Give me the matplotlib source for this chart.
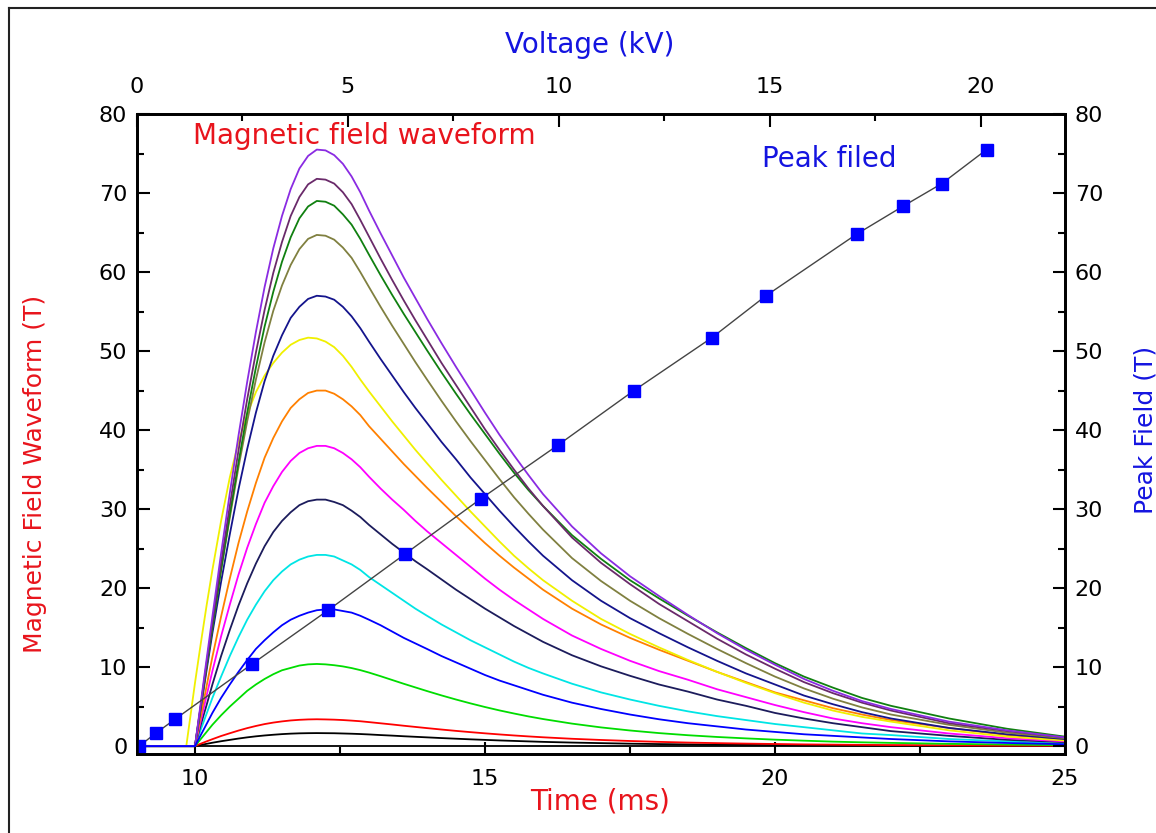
import matplotlib
matplotlib.use("Agg")
import matplotlib.pyplot as plt
from matplotlib.lines import Line2D
from matplotlib.ticker import MultipleLocator

# time grid (ms) shared by the waveforms
time_ms = [9.0, 9.85, 10.0, 10.1, 10.2, 10.3, 10.45, 10.6, 10.75, 10.9, 11.05, 11.2, 11.35,
           11.5, 11.65, 11.8, 11.95, 12.1, 12.25, 12.4, 12.55, 12.7, 12.85, 13.0, 13.2, 13.4,
           13.6, 13.8, 14.0, 14.25, 14.5, 14.75, 15.0, 15.25, 15.5, 15.75, 16.0, 16.5, 17.0,
           17.5, 18.0, 18.5, 19.0, 19.5, 20.0, 20.5, 21.0, 21.5, 22.0, 23.0, 24.0, 25.0]

# magnetic field waveforms (T)
wf_zero = [0.0] * len(time_ms)
wf_black = [0, 0, 0,
            0.15, 0.29, 0.43, 0.62, 0.79, 0.96, 1.11, 1.24, 1.35, 1.44, 1.52, 1.58, 1.62, 1.64, 1.65, 1.64,
            1.63, 1.6, 1.57, 1.53, 1.48, 1.4, 1.33, 1.25, 1.18, 1.11, 1.02, 0.94, 0.86, 0.79, 0.72, 0.66,
            0.6, 0.54, 0.45, 0.38, 0.31, 0.26, 0.22, 0.18, 0.16, 0.13, 0.11, 0.09, 0.08, 0.06, 0.05, 0.03, 0.02]
wf_red = [0, 0, 0,
          0.31, 0.6, 0.88, 1.28, 1.63, 1.97, 2.28, 2.55, 2.79, 2.98, 3.13, 3.25, 3.33, 3.38, 3.4, 3.38,
          3.35, 3.3, 3.23, 3.15, 3.04, 2.89, 2.74, 2.58, 2.43, 2.28, 2.1, 1.93, 1.77, 1.62, 1.48, 1.35,
          1.23, 1.12, 0.93, 0.78, 0.65, 0.54, 0.45, 0.38, 0.32, 0.27, 0.22, 0.19, 0.16, 0.13, 0.1, 0.06, 0.04]
wf_green = [0, 0, 0,
            0.9, 1.8, 2.7, 3.9, 5.0, 6.0, 7.0, 7.8, 8.5, 9.1, 9.6, 9.9, 10.2, 10.35, 10.4, 10.35,
            10.24, 10.09, 9.88, 9.62, 9.31, 8.85, 8.37, 7.89, 7.43, 6.97, 6.42, 5.9, 5.41, 4.95, 4.52, 4.13,
            3.76, 3.43, 2.85, 2.37, 1.98, 1.65, 1.38, 1.16, 0.98, 0.82, 0.69, 0.57, 0.48, 0.41, 0.29, 0.2, 0.12]
wf_blue = [0, 0, 0,
           1.4, 2.8, 4.2, 6.1, 7.8, 9.4, 10.9, 12.3, 13.4, 14.4, 15.3, 16.0, 16.5, 16.9, 17.2, 17.3,
           17.3, 17.1, 16.9, 16.5, 16.0, 15.3, 14.5, 13.7, 13.0, 12.3, 11.4, 10.6, 9.8, 9.0, 8.3, 7.7,
           7.1, 6.5, 5.5, 4.7, 4.0, 3.4, 2.9, 2.5, 2.1, 1.8, 1.5, 1.3, 1.1, 0.9, 0.6, 0.4, 0.24]
wf_cyan = [0, 0, 0,
           2.1, 4.1, 6.1, 8.8, 11.4, 13.8, 16.0, 17.9, 19.6, 21.0, 22.1, 23.0, 23.6, 24.0, 24.2, 24.2,
           24.0, 23.5, 23.0, 22.3, 21.4, 20.4, 19.4, 18.4, 17.4, 16.5, 15.4, 14.4, 13.4, 12.5, 11.6, 10.7,
           9.9, 9.2, 7.9, 6.8, 5.9, 5.1, 4.4, 3.8, 3.3, 2.8, 2.4, 2.0, 1.6, 1.4, 0.9, 0.6, 0.3]
wf_darknavy = [0, 0, 0,
               2.7, 5.2, 7.8, 11.4, 14.7, 17.8, 20.6, 23.1, 25.3, 27.1, 28.5, 29.6, 30.5, 31.0, 31.2, 31.2,
               30.9, 30.5, 29.8, 29.0, 28.0, 26.8, 25.6, 24.5, 23.4, 22.4, 21.1, 19.8, 18.6, 17.4, 16.3, 15.2,
               14.2, 13.2, 11.5, 10.1, 8.9, 7.8, 6.9, 5.9, 5.1, 4.2, 3.5, 2.9, 2.4, 1.9, 1.3, 0.8, 0.5]
wf_magenta = [0, 0, 0,
              3.2, 6.4, 9.5, 13.9, 17.9, 21.7, 25.1, 28.1, 30.8, 32.9, 34.7, 36.1, 37.1, 37.7, 38.0, 38.0,
              37.7, 37.1, 36.3, 35.3, 34.1, 32.6, 31.2, 29.9, 28.5, 27.2, 25.7, 24.2, 22.7, 21.2, 19.8, 18.5,
              17.3, 16.1, 14.0, 12.3, 10.8, 9.5, 8.4, 7.2, 6.2, 5.2, 4.3, 3.5, 2.9, 2.4, 1.6, 1.0, 0.6]
wf_orange = [0, 0, 0,
             3.8, 7.6, 11.3, 16.4, 21.2, 25.7, 29.7, 33.3, 36.5, 39.0, 41.1, 42.8, 43.9, 44.7, 45.0, 45.0,
             44.6, 43.9, 43.0, 41.9, 40.5, 38.9, 37.3, 35.7, 34.2, 32.7, 30.9, 29.1, 27.4, 25.7, 24.1, 22.6,
             21.2, 19.8, 17.4, 15.4, 13.7, 12.2, 10.8, 9.4, 8.1, 6.8, 5.8, 4.8, 4.0, 3.3, 2.3, 1.4, 0.8]
wf_yellow = [0, 0, 8.0,
             13.0, 17.8, 22.3, 28.5, 34.0, 38.5, 42.0, 44.8, 46.9, 48.5, 49.8, 50.8, 51.4, 51.7, 51.6, 51.2,
             50.5, 49.4, 48.0, 46.4, 44.9, 43.0, 41.1, 39.3, 37.5, 35.8, 33.7, 31.7, 29.7, 27.8, 25.9, 24.1,
             22.5, 21.0, 18.4, 16.1, 14.2, 12.5, 10.9, 9.4, 8.0, 6.7, 5.5, 4.5, 3.7, 3.1, 2.0, 1.2, 0.7]
wf_navy = [0, 0, 0,
           4.8, 9.6, 14.3, 20.8, 26.8, 32.5, 37.6, 42.2, 46.2, 49.4, 52.0, 54.2, 55.6, 56.6, 57.0, 56.9,
           56.5, 55.6, 54.4, 52.9, 51.2, 49.0, 46.9, 44.8, 42.8, 40.9, 38.5, 36.3, 34.0, 31.9, 29.8, 27.8,
           25.9, 24.1, 21.0, 18.4, 16.2, 14.3, 12.5, 10.8, 9.2, 7.8, 6.4, 5.3, 4.3, 3.5, 2.3, 1.5, 0.9]
wf_olive = [0, 0, 0,
            5.1, 10.2, 15.1, 22.3, 28.9, 35.3, 41.1, 46.4, 51.1, 55.1, 58.3, 60.9, 62.9, 64.2, 64.7, 64.6,
            64.1, 63.1, 61.8, 60.0, 58.1, 55.6, 53.2, 50.9, 48.6, 46.4, 43.7, 41.1, 38.6, 36.2, 33.8, 31.5,
            29.4, 27.4, 23.8, 20.9, 18.4, 16.2, 14.2, 12.3, 10.5, 8.8, 7.3, 6.0, 4.9, 4.0, 2.7, 1.7, 1.0]
wf_darkgreen = [0, 0, 0,
                5.0, 10.1, 15.0, 22.3, 29.3, 35.9, 42.2, 47.9, 53.1, 57.5, 61.3, 64.4, 66.8, 68.3, 69.0, 68.9,
                68.4, 67.3, 66.0, 64.2, 62.2, 59.6, 57.1, 54.7, 52.4, 50.1, 47.3, 44.6, 42.0, 39.5, 37.0, 34.6,
                32.4, 30.4, 26.7, 23.7, 21.0, 18.7, 16.5, 14.4, 12.4, 10.5, 8.8, 7.4, 6.1, 5.1, 3.5, 2.2, 1.2]
wf_wine = [0, 0, 0,
           5.2, 10.5, 15.6, 23.2, 30.4, 37.4, 43.9, 49.8, 55.2, 59.9, 63.8, 67.1, 69.5, 71.1, 71.8, 71.7,
           71.2, 70.1, 68.6, 66.6, 64.5, 61.7, 59.0, 56.4, 53.9, 51.5, 48.5, 45.7, 42.9, 40.1, 37.5, 35.0,
           32.6, 30.4, 26.4, 23.2, 20.5, 18.0, 15.8, 13.6, 11.6, 9.8, 8.1, 6.7, 5.5, 4.5, 2.9, 1.9, 1.1]
wf_violet = [0, 0, 0,
             5.5, 11.0, 16.4, 24.4, 32.0, 39.3, 46.1, 52.4, 58.1, 63.0, 67.1, 70.5, 73.1, 74.7, 75.5, 75.4,
             74.8, 73.7, 72.1, 70.1, 67.8, 64.9, 62.1, 59.3, 56.7, 54.1, 51.0, 48.0, 45.1, 42.2, 39.4, 36.8,
             34.3, 31.9, 27.8, 24.4, 21.5, 19.0, 16.6, 14.3, 12.2, 10.3, 8.5, 7.0, 5.7, 4.7, 3.1, 2.0, 1.1]

# peak field vs charging voltage
voltage_kv = [0.05, 0.45, 0.9, 2.73, 4.53, 6.35, 8.15, 9.98, 11.78, 13.63, 14.91, 17.06,
              18.15, 19.08, 20.14]
peak_field = [0, 1.65, 3.4, 10.4, 17.2, 24.3, 31.3, 38.1, 45.0, 51.7, 57.0, 64.8, 68.3,
              71.2, 75.5]

waveforms = [
    (wf_zero, "#000000"),
    (wf_black, "#000000"),
    (wf_red, "#ff0000"),
    (wf_green, "#00dd00"),
    (wf_cyan, "#00e5e5"),
    (wf_darknavy, "#1c1c5c"),
    (wf_magenta, "#ff00ff"),
    (wf_orange, "#ff8000"),
    (wf_yellow, "#f0f000"),
    (wf_navy, "#14148c"),
    (wf_olive, "#808040"),
    (wf_darkgreen, "#108010"),
    (wf_wine, "#6a2a6a"),
    (wf_violet, "#8a2be2"),
]

fig = plt.figure(figsize=(11.56, 8.33), dpi=100)
ax = fig.add_axes([0.1185, 0.0948, 0.8028, 0.7683])

for vals, col in waveforms:
    ax.plot(time_ms, vals, color=col, lw=1.3)
ax.plot(time_ms, wf_blue, color="#0000ff", lw=1.3, zorder=3)

ax.set_xlim(9, 25)
ax.set_ylim(-1, 80)
ax.xaxis.set_major_locator(MultipleLocator(5))
ax.xaxis.set_minor_locator(MultipleLocator(2.5))
ax.yaxis.set_major_locator(MultipleLocator(10))
ax.yaxis.set_minor_locator(MultipleLocator(5))

ax2 = ax.twinx()
ax2.set_ylim(-1, 80)
ax2.yaxis.set_major_locator(MultipleLocator(10))
ax2.yaxis.set_minor_locator(MultipleLocator(5))

ax3 = ax2.twiny()
ax3.set_xlim(0, 22)
ax3.xaxis.set_major_locator(MultipleLocator(5))
ax3.xaxis.set_minor_locator(MultipleLocator(2.5))
ax3.plot(voltage_kv, peak_field, color="#444444", lw=1.0, marker="s", ms=9,
         mfc="#0000ff", mec="#0000ff")

for a in (ax, ax2, ax3):
    a.tick_params(which="major", direction="in", length=9, width=1.5, labelsize=16)
    a.tick_params(which="minor", direction="in", length=5, width=1.5)
    for s in a.spines.values():
        s.set_linewidth(1.8)
ax.tick_params(axis="x", pad=11)
ax.tick_params(axis="y", pad=7)
ax2.tick_params(axis="y", pad=7)
ax3.tick_params(axis="x", pad=12)

ax.text(9.97, 77.2, "Magnetic field waveform", color="#e8141c", fontsize=20,
        ha="left", va="center")
ax.text(19.78, 74.3, "Peak filed", color="#1414e0", fontsize=20, ha="left", va="center")

fig.text(0.5104, 0.946, "Voltage (kV)", color="#1414e0", fontsize=20, ha="center", va="center")
fig.text(0.519, 0.0384, "Time (ms)", color="#e8141c", fontsize=20, ha="center", va="center")
fig.text(0.0303, 0.431, "Magnetic Field Waveform (T)", color="#e8141c", fontsize=18,
         rotation=90, ha="center", va="center")
fig.text(0.9905, 0.484, "Peak Field (T)", color="#1414e0", fontsize=18,
         rotation=90, ha="center", va="center")

# outer frame (only left and top edges are visible in the original)
bx, by = 9 / 1156, 1 - 8 / 833
fig.add_artist(Line2D([bx, bx], [0, by], transform=fig.transFigure, color="#222222", lw=1.5))
fig.add_artist(Line2D([bx, 1], [by, by], transform=fig.transFigure, color="#222222", lw=1.5))

fig.savefig("out.png", dpi=100)
